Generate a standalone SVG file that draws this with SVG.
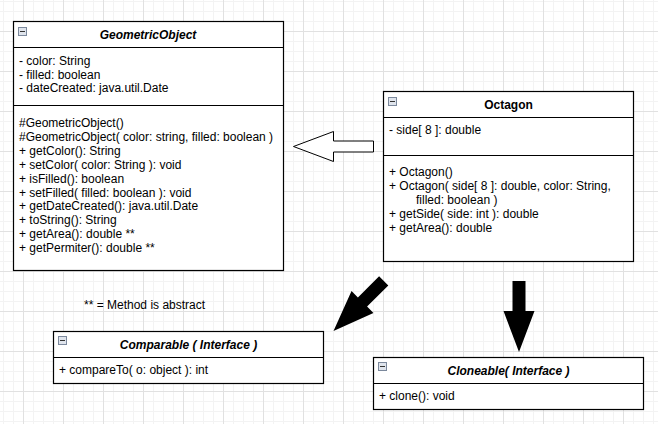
<svg xmlns="http://www.w3.org/2000/svg" width="658" height="424" viewBox="0 0 658 424">
<defs>
<pattern id="grid" x="23" y="31" width="40" height="40" patternUnits="userSpaceOnUse">
<rect width="40" height="40" fill="#ffffff"/>
<path d="M10.5 0V40M20.5 0V40M30.5 0V40M0 10.5H40M0 20.5H40M0 30.5H40" stroke="#f3f3f3" stroke-width="1" fill="none"/>
<path d="M0.5 0V40M0 0.5H40" stroke="#e1e1e1" stroke-width="1" fill="none"/>
</pattern>
<g id="tog">
<rect x="0.5" y="0.5" width="8" height="8" fill="#dfe4ec" stroke="#7b889c" stroke-width="1"/>
<path d="M2 4.5H7" stroke="#333" stroke-width="1"/>
</g>
</defs>
<style>
.box{fill:#ffffff;stroke:#000;stroke-width:1.2}
.sep{stroke:#000;stroke-width:1.2}
text{font-family:"Liberation Sans",Arial,sans-serif;font-size:12px;fill:#000}
.ti{font-weight:bold;font-style:italic;text-anchor:middle}
.tb{font-weight:bold;text-anchor:middle}
</style>
<rect width="658" height="424" fill="url(#grid)"/>

<g id="GeometricObject">
<rect class="box" x="13.5" y="21.5" width="270" height="249"/>
<line class="sep" x1="13.5" y1="47.5" x2="283.5" y2="47.5"/>
<line class="sep" x1="13.5" y1="105.5" x2="283.5" y2="105.5"/>
<use href="#tog" x="18" y="27"/>
<text class="ti" x="148" y="38.5">GeometricObject</text>
<text x="19" y="65">- color: String</text>
<text x="19" y="78.5">- filled: boolean</text>
<text x="19" y="92">- dateCreated: java.util.Date</text>
<text x="19" y="127.3">#GeometricObject()</text>
<text x="19" y="141.1">#GeometricObject( color: string, filled: boolean )</text>
<text x="19" y="155">+ getColor(): String</text>
<text x="19" y="168.8">+ setColor( color: String ): void</text>
<text x="19" y="182.7">+ isFilled(): boolean</text>
<text x="19" y="196.5">+ setFilled( filled: boolean ): void</text>
<text x="19" y="210.4">+ getDateCreated(): java.util.Date</text>
<text x="19" y="224.2">+ toString(): String</text>
<text x="19" y="238.1">+ getArea(): double **</text>
<text x="19" y="252">+ getPermiter(): double **</text>
</g>

<g id="Octagon">
<rect class="box" x="383.5" y="91.5" width="250" height="170"/>
<line class="sep" x1="383.5" y1="117.5" x2="633.5" y2="117.5"/>
<line class="sep" x1="383.5" y1="155.5" x2="633.5" y2="155.5"/>
<use href="#tog" x="388" y="97"/>
<text class="tb" x="508.5" y="108.5">Octagon</text>
<text x="389" y="134.3">- side[ 8 ]: double</text>
<text x="389" y="176">+ Octagon()</text>
<text x="389" y="190.3">+ Octagon( side[ 8 ]: double, color: String,</text>
<text x="416" y="204">filled: boolean )</text>
<text x="389" y="218.3">+ getSide( side: int ): double</text>
<text x="389" y="232.3">+ getArea(): double</text>
</g>

<g id="Comparable">
<rect class="box" x="53.5" y="331.5" width="270" height="52"/>
<line class="sep" x1="53.5" y1="357.5" x2="323.5" y2="357.5"/>
<use href="#tog" x="58" y="336"/>
<text class="ti" x="188.5" y="348.5">Comparable ( Interface )</text>
<text x="59" y="374">+ compareTo( o: object ): int</text>
</g>

<g id="Cloneable">
<rect class="box" x="373.5" y="357.5" width="270" height="52"/>
<line class="sep" x1="373.5" y1="383.5" x2="643.5" y2="383.5"/>
<use href="#tog" x="378" y="362"/>
<text class="ti" x="508.5" y="374.5">Cloneable( Interface )</text>
<text x="379" y="400">+ clone(): void</text>
</g>

<g id="note">
<text x="84" y="308.5">** = Method is abstract</text>
</g>

<g id="connectors">
<polygon points="293.5,146.5 333.5,131.5 333.5,141 373.5,141 373.5,152 333.5,152 333.5,161.5" fill="#ffffff" stroke="#000" stroke-width="1"/>
<polygon transform="translate(333.5,331) rotate(45)" points="0,0 -15.5,-41 -6.5,-41 -6.5,-71 6.5,-71 6.5,-41 15.5,-41" fill="#000"/>
<polygon transform="translate(519,352)" points="0,0 -15.5,-41 -6.5,-41 -6.5,-71 6.5,-71 6.5,-41 15.5,-41" fill="#000"/>
</g>
</svg>
